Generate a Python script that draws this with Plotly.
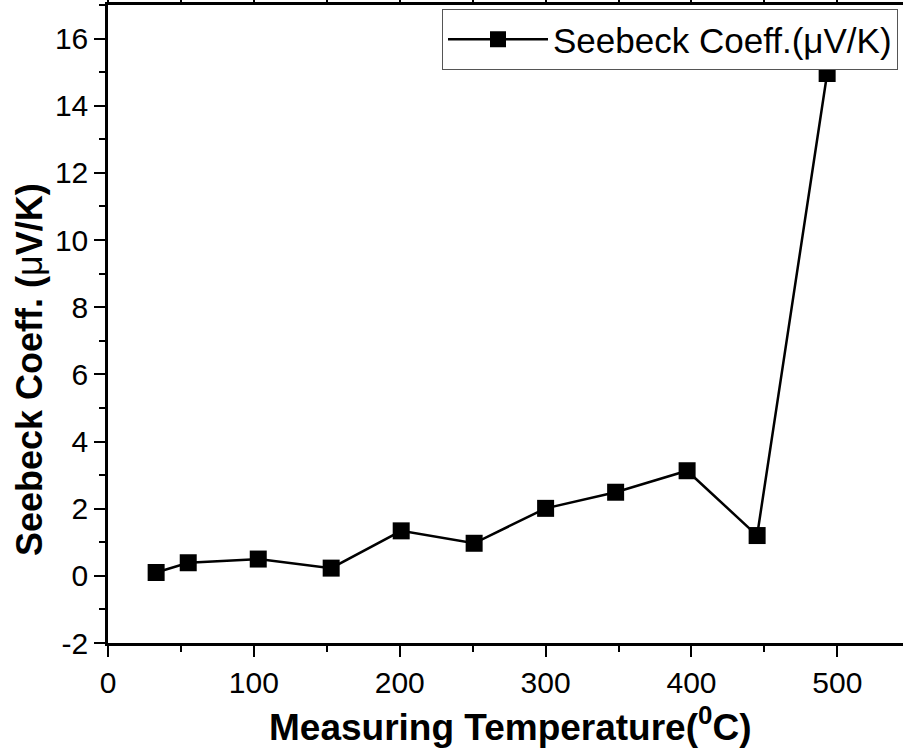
import plotly.graph_objects as go

temperature = [33, 55, 103, 153, 201, 251, 300, 348, 397, 445, 493]
seebeck = [0.10, 0.39, 0.50, 0.23, 1.34, 0.97, 2.01, 2.49, 3.13, 1.20, 14.96]
series_name = "Seebeck Coeff.(μV/K)"
x_title = "<b>Measuring Temperature(<sup>0</sup>C)</b>"
y_title = "<b>Seebeck Coeff. (</b>μ<b>V/K)</b>"
y_ticks = [-2, 0, 2, 4, 6, 8, 10, 12, 14, 16]
y_ticktext = ["-2", "0", "2", "4", "6", "8", "10", "12", "14", "16"]

FONT = "Arial, Liberation Sans, Helvetica, sans-serif"

fig = go.Figure()
fig.add_trace(go.Scatter(
    x=temperature, y=seebeck, mode="lines+markers", name=series_name,
    line=dict(color="black", width=2.5),
    marker=dict(symbol="square", size=17, color="black"),
))

W, H = 903, 749
L, R, T, B = 108, 0, 5, 106

axis_common = dict(
    showgrid=False, zeroline=False, showline=True, linecolor="black", linewidth=2.5,
    ticks="outside", tickcolor="black", tickwidth=2, ticklen=11, automargin=False,
    tickfont=dict(family=FONT, size=30, color="black"),
)

fig.update_xaxes(range=[0, 545], dtick=100, tick0=0, mirror="allticks",
                 minor=dict(dtick=50, ticks="outside", ticklen=6, tickwidth=2, tickcolor="black"),
                 **axis_common)
fig.update_yaxes(range=[-2, 17], tickmode="array", tickvals=y_ticks, ticktext=y_ticktext,
                 minor=dict(dtick=1, tick0=0, ticks="outside", ticklen=6, tickwidth=2, tickcolor="black"),
                 **axis_common)

pw = W - L - R
ph = H - T - B
fig.add_annotation(text=x_title, xref="paper", yref="paper",
                   x=(510 - L) / pw, y=1 - (724 - T) / ph, xanchor="center", yanchor="middle",
                   showarrow=False, font=dict(family=FONT, size=37, color="black"))
fig.add_annotation(text=y_title, xref="paper", yref="paper", textangle=-90,
                   x=(29 - L) / pw, y=1 - (370 - T) / ph, xanchor="center", yanchor="middle",
                   showarrow=False, font=dict(family=FONT, size=36, color="black"))

fig.update_layout(
    width=W, height=H, margin=dict(l=L, r=R, t=T, b=B),
    paper_bgcolor="white", plot_bgcolor="white",
    showlegend=True,
    legend=dict(x=(898 - L) / pw, y=1 - (9 - T) / ph, xanchor="right", yanchor="top",
                bordercolor="#555555", borderwidth=1, bgcolor="white",
                font=dict(family=FONT, size=35, color="black"), itemwidth=100),
)

fig.write_html("out.html")
